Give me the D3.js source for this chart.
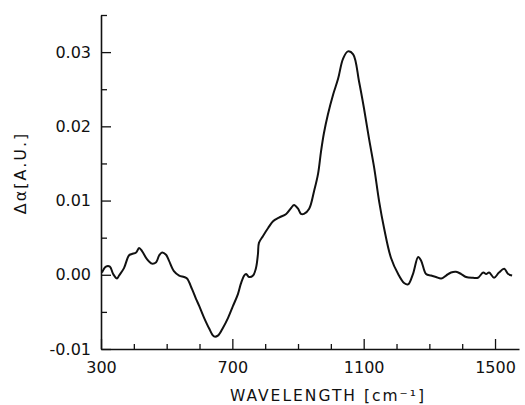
<!DOCTYPE html>
<html><head><meta charset="utf-8">
<script src="https://cdn.jsdelivr.net/npm/d3@7/dist/d3.min.js"></script>
<style>body{margin:0;background:#fff}svg{display:block}</style>
</head><body>
<svg id="c" width="525" height="405"></svg>
<script>
// Data
const wavenumber = [303,315,327,337,349,355,370,385,394,407,416,425,440,455,468,477,486,498,507,522,538,553,562,577,589,599,614,629,644,656,672,687,702,717,726,736,742,751,763,772,778,781,793,809,824,842,864,879,888,900,909,918,934,949,961,970,979,991,1007,1022,1037,1052,1068,1086,1101,1116,1132,1147,1162,1183,1205,1223,1235,1250,1266,1275,1290,1305,1320,1336,1351,1366,1381,1397,1412,1433,1448,1464,1473,1482,1497,1512,1528,1540,1552];
const deltaAlpha = [0.0003,0.0011,0.0011,0.0001,-0.0005,-0.0001,0.0009,0.0026,0.0028,0.0030,0.0036,0.0032,0.0021,0.0015,0.0017,0.0026,0.0030,0.0027,0.0019,0.0005,-0.0001,-0.0003,-0.0005,-0.0019,-0.0032,-0.0042,-0.0058,-0.0072,-0.0083,-0.0082,-0.0071,-0.0058,-0.0042,-0.0026,-0.0012,-0.0001,0.0001,-0.0003,-0.0001,0.0009,0.0028,0.0043,0.0052,0.0063,0.0072,0.0077,0.0082,0.0090,0.0094,0.0089,0.0082,0.0082,0.0089,0.0113,0.0136,0.0166,0.0191,0.0216,0.0243,0.0264,0.0291,0.0301,0.0297,0.0260,0.0224,0.0184,0.0144,0.0099,0.0063,0.0023,0.0001,-0.0011,-0.0013,0.0001,0.0024,0.0019,0.0001,-0.0001,-0.0003,-0.0005,-0.0001,0.0003,0.0004,0.0001,-0.0003,-0.0004,-0.0004,0.0003,0.0001,0.0003,-0.0004,0.0003,0.0008,0.0001,-0.0001];
const xMajorTicks = [300,700,1100,1500];
const xMinorTicks = [400,500,600,800,900,1000,1200,1300,1400];
const yMajorTicks = [-0.01,0.00,0.01,0.02,0.03];
const yMinorTicks = [-0.005,0.005,0.015,0.025,0.035];
const xTitle = "WAVELENGTH [cm\u207B\u00B9]";
const yTitle = "\u0394\u03B1[A.U.]";

const svg = d3.select("#c");
const x = d3.scaleLinear().domain([300,1573]).range([101,519]);
const y = d3.scaleLinear().domain([-0.01,0.035]).range([349,15]);
const font = "DejaVu Sans, sans-serif";
const ink = "#111";

// minor ticks
svg.append("g").attr("transform","translate(0,349)")
  .call(d3.axisBottom(x).tickValues(xMinorTicks).tickSize(-5).tickFormat(""))
  .call(g=>g.select(".domain").remove());
svg.append("g").attr("transform","translate(101,0)")
  .call(d3.axisLeft(y).tickValues(yMinorTicks).tickSize(-6).tickFormat(""))
  .call(g=>g.select(".domain").remove());

// major axes
const xa = svg.append("g").attr("transform","translate(0,349)")
  .call(d3.axisBottom(x).tickValues(xMajorTicks).tickSize(-10).tickSizeOuter(0).tickPadding(13).tickFormat(d3.format("d")));
const ya = svg.append("g").attr("transform","translate(101,0)")
  .call(d3.axisLeft(y).tickValues(yMajorTicks).tickSize(-10).tickSizeOuter(0).tickPadding(10).tickFormat(d=>d<0?"-"+d3.format(".2f")(-d):d3.format(".2f")(d)));

svg.selectAll(".domain").attr("stroke",ink).attr("stroke-width",1.6);
svg.selectAll(".tick line").attr("stroke",ink).attr("stroke-width",1.3);
svg.selectAll(".tick text").attr("font-family",font).attr("font-size",16).attr("fill",ink);

// curve
const pts = wavenumber.map((w,i)=>[w,deltaAlpha[i]]);
svg.append("path").datum(pts)
  .attr("fill","none").attr("stroke",ink).attr("stroke-width",2)
  .attr("stroke-linejoin","round")
  .attr("d", d3.line().x(d=>x(d[0])).y(d=>y(d[1])).curve(d3.curveCatmullRom.alpha(0.5)));

// titles
svg.append("text").attr("x",328).attr("y",401).attr("text-anchor","middle")
  .attr("font-family",font).attr("font-size",15.5).attr("letter-spacing","2px").attr("fill",ink)
  .text(xTitle);
svg.append("text").attr("transform","translate(26,173) rotate(-90)").attr("text-anchor","middle")
  .attr("font-family",font).attr("font-size",16).attr("letter-spacing","2px").attr("fill",ink)
  .text(yTitle);
</script>
</body></html>
